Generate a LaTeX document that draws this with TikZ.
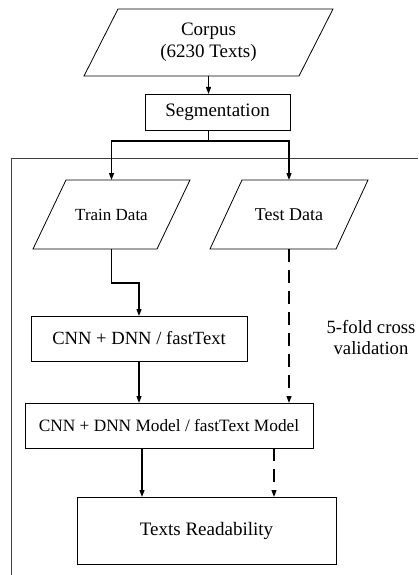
\documentclass[tikz,border=0pt]{standalone}
\usepackage{fontspec}
\setmainfont{Liberation Serif}
\usetikzlibrary{arrows.meta,calc}
\begin{document}
\begin{tikzpicture}[x=1pt,y=-1pt,
  every node/.style={font=\fontsize{19}{22.3}\selectfont, inner sep=0pt, outer sep=0pt, align=center},
  boxnode/.style={draw, line width=0.8pt, rectangle},
  paranode/.style={rectangle},
  paraline/.style={draw, line width=0.8pt},
  flow/.style={line width=1.2pt, -{Triangle[length=7pt,width=5pt]}},
  dashflow/.style={flow, dash pattern=on 13pt off 8pt},
  frameline/.style={draw, black!75, line width=0.9pt}]
\useasboundingbox (0,0) rectangle (418,575);

% Corpus parallelogram
\node[paranode, minimum width=249pt, minimum height=67pt] (corpus) at (208.5,42.5) {Corpus\\(6230 Texts)};
\draw[paraline] ([xshift=34pt]corpus.north west) -- (corpus.north east) -- ([xshift=-34pt]corpus.south east) -- (corpus.south west) -- cycle;

% Segmentation
\node[boxnode, minimum width=145pt, minimum height=36pt] (seg) at (217.5,112) {Segmentation};

% Frame
\coordinate (fbl) at (11,575);
\coordinate (ftl) at (11,158);
\coordinate (ftr) at (418,158);
\draw[frameline] (fbl) -- (ftl) -- (ftr);

% Train Data
\node[paranode, minimum width=157pt, minimum height=69pt, font=\fontsize{17}{20}\selectfont] (train) at (111.5,214.5) {Train Data};
\draw[paraline] ([xshift=33pt]train.north west) -- (train.north east) -- ([xshift=-33pt]train.south east) -- (train.south west) -- cycle;

% Test Data
\node[paranode, minimum width=158pt, minimum height=69pt, font=\fontsize{18}{21}\selectfont] (test) at (289,214.5) {Test Data};
\draw[paraline] ([xshift=32pt]test.north west) -- (test.north east) -- ([xshift=-32pt]test.south east) -- (test.south west) -- cycle;

% CNN + DNN / fastText
\node[boxnode, minimum width=216pt, minimum height=45pt, font=\fontsize{18.6}{22}\selectfont] (cnn) at (139,338.5) {CNN + DNN / fastText};

% Model
\node[boxnode, minimum width=288pt, minimum height=45pt, font=\fontsize{17.3}{20}\selectfont] (model) at (169,425.5) {CNN + DNN Model / fastText Model};

% Readability
\node[boxnode, minimum width=259pt, minimum height=67pt] (read) at (206.5,530.5) {Texts Readability};

% cross validation label
\node[font=\fontsize{18.7}{21}\selectfont] (cv) at (371,338) {5-fold cross\\validation};

% connectors
\draw[flow] (corpus.south) -- (corpus.south |- seg.north);
\draw[flow] (seg.south -| corpus.south) -- ++(0,11) -| (train.north);
\draw[flow] (seg.south -| corpus.south) -- ++(0,11) -| (test.north);
\draw[flow] (train.south) -- ++(0,34) -| (cnn.north);
\draw[dashflow] (test.south) -- (test.south |- model.north);
\draw[flow] (cnn.south) -- (cnn.south |- model.north);
\draw[flow] ([xshift=117pt]model.south west) -- ([xshift=117pt]model.south west |- read.north);
\draw[dashflow] ([xshift=249pt]model.south west) -- ([xshift=249pt]model.south west |- read.north);
\end{tikzpicture}
\end{document}
